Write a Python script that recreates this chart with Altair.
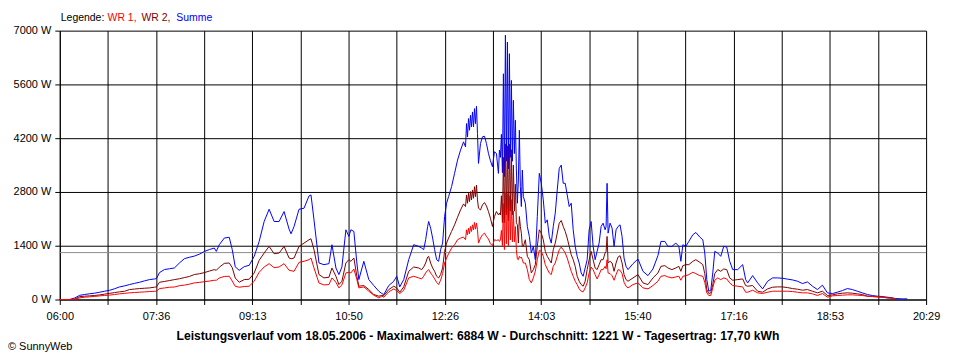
import altair as alt
import pandas as pd

# minutes after 06:00
MINUTES = [0, 5, 10, 15, 20, 25, 30, 35, 40, 45, 50, 55, 60, 65, 70, 75, 80, 85, 90, 95, 97,
           100, 105, 110, 115, 120, 125, 130, 135, 140, 145, 150, 155, 157, 160, 165, 170, 173, 176, 180, 185, 190,
           195, 200, 205, 210, 215, 220, 225, 230, 232, 235, 240, 245, 250, 252, 255, 260, 265, 270, 273, 277,
           280, 283, 287, 290, 292, 295, 298, 300, 305, 310, 315, 320, 323, 325, 330, 335, 338, 341, 345, 350, 355,
           360, 363, 365, 367, 369, 370, 372, 374, 376, 378, 380, 382, 384, 386, 388, 390, 393, 396, 399, 402, 405,
           407, 408, 409, 410, 411, 412, 413, 414, 415, 416, 417, 418, 419, 420, 422, 424, 426, 428, 430, 432, 434,
           436, 438, 440, 441, 442, 443, 444, 445, 446, 447, 448, 449, 450, 451, 452, 453, 454, 455, 456, 457, 458,
           459, 460, 461, 462, 463, 464, 465, 467, 469, 471, 473, 475, 477, 479, 481, 483, 485, 487, 489, 491, 493,
           495, 497, 499, 501, 503, 505, 507, 509, 511, 513, 515, 517, 519, 521, 523, 525, 527, 529, 531, 533, 535,
           537, 539, 541, 543, 545, 547, 548, 549,
           550, 552, 554, 556, 558, 560, 562, 564, 566, 568, 570, 575, 580, 585, 590, 595, 600, 603, 607, 610, 614,
           618, 621, 623, 625, 628, 631, 635, 638, 642, 645, 647, 649, 651, 653, 655, 657, 660, 663, 666, 669, 672,
           675, 680, 685, 688, 690, 695, 700, 705, 710, 715, 720, 725, 730,
           735, 740, 745, 750, 755, 760, 765, 770, 775, 780, 785, 790, 795, 800, 805, 810, 815, 820, 825, 830, 835,
           838, 845, 850]

SUMME = [0, 0, 0, 40, 110, 130, 150, 165, 190, 215, 240, 280, 328, 355, 389, 420, 449, 485, 518, 535, 544,
         700, 780, 800, 821, 950, 1063, 1100, 1130, 1180, 1250, 1300, 1340, 1253, 1426, 1600, 1620, 1300, 850, 760, 855, 890,
         1123, 1512, 2031, 2350, 2031, 2031, 2290, 1832, 1711, 1901, 2350, 2376, 2696, 2722, 2074, 950, 907, 933, 1426, 821,
         648, 847, 1815, 1642, 1815, 1772, 950, 518, 994, 518, 363, 216, 156, 130, 363, 475, 605, 328, 518, 1037, 1426,
         1383, 1340, 1296, 1556, 1901, 2031, 1858, 1599, 1296, 1037, 994, 1296, 1469, 2160, 2506, 2679, 2938, 3284, 3630, 3889, 4105,
         3975, 4580, 4235, 4710, 4407, 4796, 4494, 4883, 4494, 4969, 4580, 5030, 4321, 3543, 4062, 4235, 4252, 4062, 3803, 3612, 3457,
         3846, 3803, 3284, 3889, 3700, 4300, 3300, 5877, 3200, 6884, 3600, 6700, 3400, 6400, 3700, 5704, 3600, 5185, 3800, 4667, 3400,
         2506, 3111, 4407, 2938, 2420, 3370, 2679, 2506, 1901, 1642, 1210, 1383, 1037, 2160, 3284, 3025, 2593, 1988, 2074, 1642, 1469,
         1901, 2247, 2852, 3414, 3500, 3025, 3025, 2722, 2420, 2506, 1815, 1383, 1124, 950, 691, 605, 821, 1037, 1815, 2031, 1383,
         1037, 1253, 1469, 1901, 1988, 1815, 1900, 3025,
         1728, 1988, 1858, 1383, 1815, 1901, 1944, 1642, 1080, 864, 778, 933, 1054, 734, 622, 795, 1141, 1512, 1512, 1383, 1383,
         1469, 1383, 994, 1426, 1383, 1512, 1685, 1746, 1625, 1556, 1210, 518, 216, 242, 691, 1253, 1210, 1124, 1383, 1365, 994,
         778, 778, 907, 518, 432, 622, 432, 276, 475, 562, 562, 553, 530,
         510, 475, 415, 458, 346, 259, 372, 173, 156, 190, 233, 285, 259, 216, 173, 130, 104, 86, 78, 60, 43,
         26, 17, 17]

WR2 = [0, 0, 0, 10, 75, 86, 95, 105, 120, 140, 160, 180, 200, 215, 259, 272, 285, 293, 302, 320, 328,
       449, 470, 493, 518, 540, 570, 600, 650, 670, 700, 740, 778, 760, 840, 940, 951, 830, 560, 450, 518, 527,
       691, 1020, 1210, 1383, 1192, 1210, 1383, 1080, 1060, 1080, 1383, 1469, 1555, 1581, 1296, 650, 562, 579, 821, 605,
       389, 475, 951, 1037, 994, 1080, 605, 346, 363, 259, 130, 86, 104, 100, 259, 346, 300, 190, 328, 734, 847,
       821, 778, 847, 950, 1106, 1124, 950, 821, 735, 605, 562, 648, 821, 1253, 1469, 1599, 1772, 1944, 2143, 2333, 2489,
       2420, 2722, 2506, 2766, 2549, 2809, 2593, 2852, 2636, 2938, 2679, 2981, 2593, 2377, 2333, 2463, 2524, 2437, 2290, 2117, 1901,
       2160, 2290, 2204, 2247, 2200, 2700, 2000, 3700, 2000, 4050, 2200, 4000, 2050, 4050, 2300, 3900, 2200, 3500, 2300, 3000, 2000,
       1944, 1469, 2160, 1901, 1728, 1383, 1383, 1556, 1124, 1037, 691, 778, 907, 1383, 1815, 1728, 1556, 1253, 1124, 1037, 950,
       1296, 1469, 1728, 1988, 2057, 1901, 1772, 1599, 1383, 1167, 1037, 864, 605, 475, 389, 346, 475, 778, 1037, 1253, 1037,
       821, 778, 907, 1037, 1037, 1210, 1250, 1642,
       951, 994, 951, 734, 951, 1106, 1141, 951, 648, 518, 475, 562, 648, 432, 389, 562, 691, 864, 881, 821, 778,
       821, 864, 734, 881, 907, 907, 994, 1037, 968, 907, 674, 259, 156, 173, 389, 674, 778, 734, 795, 778, 562,
       501, 518, 536, 363, 346, 363, 216, 190, 276, 320, 328, 328, 310,
       285, 268, 242, 259, 216, 173, 216, 104, 121, 147, 164, 173, 164, 147, 130, 86, 78, 69, 60, 43, 35,
       17, None, None]

WR1 = [0, 0, 0, 0, 43, 60, 70, 80, 95, 105, 115, 130, 147, 160, 173, 182, 190, 198, 207, 213, 216,
       285, 300, 320, 325, 360, 375, 400, 432, 445, 465, 480, 501, 501, 560, 600, 605, 480, 345, 320, 337, 346,
       475, 709, 847, 933, 829, 847, 933, 760, 750, 734, 968, 994, 1037, 1080, 821, 430, 380, 389, 562, 449,
       302, 380, 691, 709, 691, 795, 518, 302, 328, 216, 112, 43, 86, 60, 199, 276, 230, 156, 242, 562, 605,
       562, 536, 605, 691, 760, 778, 691, 622, 536, 449, 389, 501, 674, 950, 1080, 1192, 1340, 1426, 1556, 1599, 1625,
       1556, 1815, 1685, 1858, 1711, 1901, 1772, 1944, 1815, 2005, 1832, 1988, 1815, 1469, 1599, 1685, 1728, 1642, 1573, 1452, 1400,
       1556, 1538, 1556, 1512, 1550, 1800, 1400, 2500, 1300, 2800, 1450, 2750, 1400, 2700, 1550, 2600, 1500, 2300, 1500, 1900, 1300,
       1054, 1037, 1124, 1080, 1106, 1037, 950, 950, 778, 518, 432, 562, 735, 1037, 1279, 1253, 1124, 907, 795, 691, 648,
       864, 950, 1124, 1296, 1365, 1296, 1210, 1080, 907, 735, 605, 475, 389, 277, 216, 199, 302, 432, 691, 847, 778,
       648, 536, 648, 778, 778, 864, 800, 1037,
       691, 674, 622, 501, 648, 778, 760, 674, 449, 346, 302, 389, 432, 302, 277, 363, 475, 605, 622, 588, 562,
       588, 605, 501, 605, 622, 648, 709, 674, 622, 605, 449, 173, 104, 104, 302, 501, 562, 518, 562, 536, 432,
       363, 346, 328, 190, 190, 242, 173, 156, 190, 216, 216, 216, 216,
       207, 190, 173, 173, 147, 104, 156, 60, 95, 104, 112, 121, 121, 112, 104, 86, 78, 69, 60, 43, 35,
       17, None, None]

AVERAGE = [1221]

X_TICK_COUNT = 18
X_SPAN = 869  # 06:00 .. 20:29
X_LABELS = ["06:00", "", "07:36", "", "09:13", "", "10:50", "", "12:26", "", "14:03", "",
            "15:40", "", "17:16", "", "18:53", "", "20:29"]
Y_TICKS = [0, 1400, 2800, 4200, 5600, 7000]

LEGEND_PARTS = ["Legende:", "WR 1,", "WR 2,", "Summe"]
TITLE_TEXT = "Leistungsverlauf vom 18.05.2006 - Maximalwert: 6884 W - Durchschnitt: 1221 W - Tagesertrag: 17,70 kWh"
COPYRIGHT = "© SunnyWeb"

COL_SUM = "#0000FF"
COL_WR1 = "#FF0000"
COL_WR2 = "#800000"

df = pd.DataFrame({"t": MINUTES, "summe": SUMME, "wr2": WR2, "wr1": WR1})
avg_df = pd.DataFrame({"avg": AVERAGE})

x_values = [i * X_SPAN / X_TICK_COUNT for i in range(X_TICK_COUNT + 1)]
label_array = "[" + ",".join("'" + s + "'" for s in X_LABELS) + "]"
x_axis = alt.Axis(values=x_values, labelExpr=f"{label_array}[round(datum.value*{X_TICK_COUNT}/{X_SPAN})]",
                  title=None, grid=True, labelPadding=6, labelAngle=0, labelFlush=False,
                  labelAlign="center", labelOverlap=False)
x_scale = alt.Scale(domain=[0, X_SPAN], nice=False, zero=False)
y_axis = alt.Axis(values=Y_TICKS, labelExpr="datum.value + ' W'", title=None, grid=True,
                  labelPadding=4, labelFlush=False, labelOverlap=False)
y_scale = alt.Scale(domain=[0, 7000], nice=False)

def line(field, color):
    return alt.Chart(df).mark_line(color=color, strokeWidth=1, interpolate="linear").encode(
        x=alt.X("t:Q", scale=x_scale, axis=x_axis),
        y=alt.Y(f"{field}:Q", scale=y_scale, axis=y_axis),
    )

avg_rule = alt.Chart(avg_df).mark_rule(color="#8c8c8c", strokeWidth=1).encode(
    y=alt.Y("avg:Q", scale=y_scale, axis=y_axis)
)

def text_layer(txt, x, y, color="black", bold=False, align="left", size=11):
    return alt.Chart(pd.DataFrame({"s": [txt]})).mark_text(
        align=align, baseline="middle", font="Liberation Sans", fontSize=size,
        fontWeight="bold" if bold else "normal", color=color
    ).encode(x=alt.value(x), y=alt.value(y), text="s:N")

legend_colors = ["black", COL_WR1, COL_WR2, COL_SUM]
legend_x = [1, 48, 82, 117]
texts = [text_layer(t, x, -13, c, size=10.5) for t, x, c in zip(LEGEND_PARTS, legend_x, legend_colors)]
texts.append(text_layer(TITLE_TEXT, 420, 307, bold=True, align="center", size=12.2))
texts.append(text_layer(COPYRIGHT, -52, 318))

chart = alt.layer(
    avg_rule,
    line("summe", COL_SUM),
    line("wr2", COL_WR2),
    line("wr1", COL_WR1),
    *texts,
).properties(
    width=870, height=270,
    padding={"left": 52, "top": 22, "right": 26, "bottom": 56},
    autosize=alt.AutoSizeParams(type="none"),
    background="white",
).configure_axis(
    gridColor="black", gridOpacity=1, gridWidth=1,
    domainColor="black", domainWidth=1,
    tickColor="black", tickSize=5, tickWidth=1,
    labelColor="black", labelFont="Liberation Sans", labelFontSize=11,
).configure_view(strokeWidth=0)

chart.save("out.html", embed_options={"renderer": "svg", "actions": False})
